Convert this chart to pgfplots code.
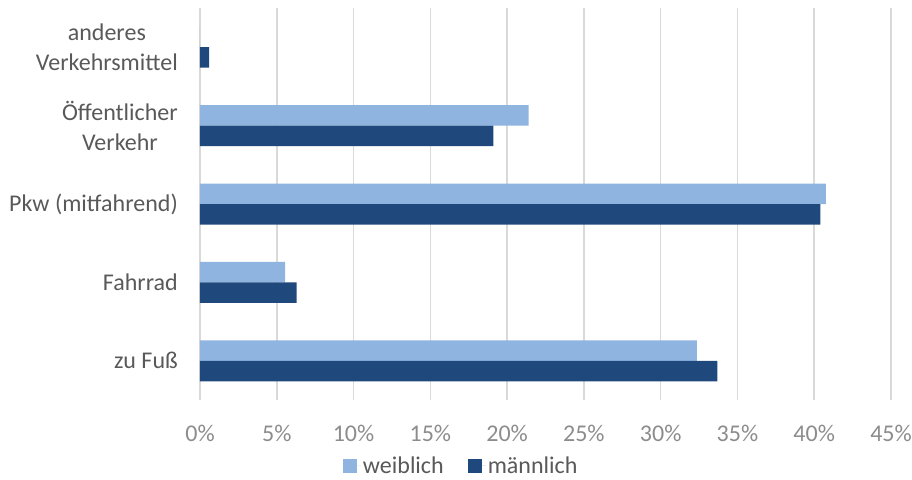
\documentclass[border=0pt]{standalone}
\usepackage{fontspec}
\setmainfont{Carlito}
\usepackage{pgfplots}
\pgfplotsset{compat=1.18}
\definecolor{wcol}{HTML}{8FB4E0}
\definecolor{mcol}{HTML}{1F497D}
\definecolor{gridc}{HTML}{D9D9D9}
\definecolor{txt}{HTML}{595959}
\definecolor{ticktxt}{HTML}{8C8C8C}
\newcommand{\lab}{\fontsize{24}{30}\selectfont}
\begin{document}
\begin{tikzpicture}
\path[use as bounding box] (-200pt,-79pt) rectangle (712pt,400pt);
\begin{axis}[
  at={(0,0)}, anchor=south west,
  scale only axis, width=691pt, height=392pt,
  xbar, bar width=20.5pt,
  xmin=0, xmax=45, ymin=-0.5, ymax=4.5,
  axis line style={draw=none},
  major tick length=0pt,
  xmajorgrids, grid style={gridc, line width=1.5pt},
  xtick={0,5,...,45},
  xticklabels={0\%,5\%,10\%,15\%,20\%,25\%,30\%,35\%,40\%,45\%},
  xticklabel style={font=\lab, text=ticktxt, anchor=north, inner sep=0pt, yshift=-25pt},
  ytick={0,1,2,3,4},
  yticklabels={zu Fuß, Fahrrad, Pkw (mitfahrend), {Öffentlicher\\Verkehr}, {anderes\\Verkehrsmittel}},
  yticklabel style={font=\lab, text=txt, align=center, anchor=east, inner sep=0pt, xshift=-22pt},
  legend style={draw=none, at={(axis description cs:0.378,-0.168)}, anchor=center,
    font=\lab, text=txt, legend columns=2,
    /tikz/every even column/.append style={column sep=22pt}},
  legend image code/.code={\fill[#1,draw=none] (0pt,-7pt) rectangle (14pt,7pt); \path (0pt,0pt) -- (18pt,0pt);},
]
\addplot[fill=wcol, draw=none, bar shift=10.25pt] coordinates {
  (32.36,0) (5.55,1) (40.76,2) (21.4,3) (0,4)
};
\addplot[fill=mcol, draw=none, bar shift=-10.25pt] coordinates {
  (33.7,0) (6.3,1) (40.4,2) (19.1,3) (0.6,4)
};
\legend{weiblich, männlich}
\end{axis}
\end{tikzpicture}
\end{document}
